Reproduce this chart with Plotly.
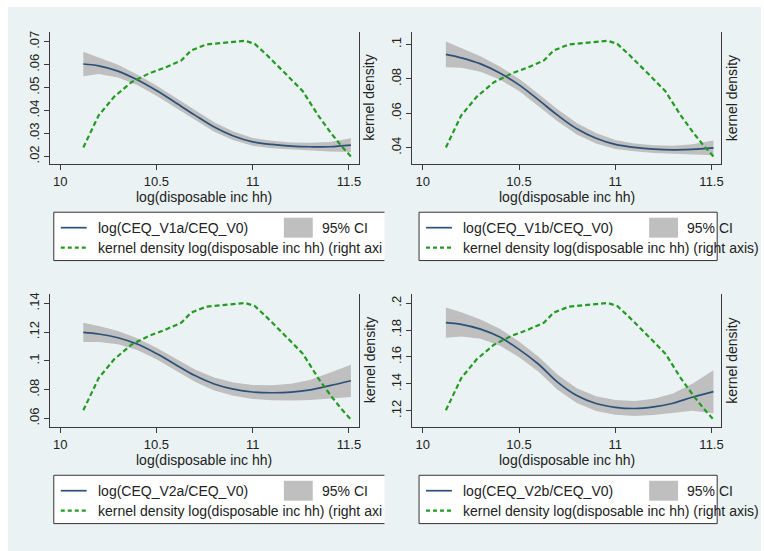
import plotly.graph_objects as go

W, H = 764, 551

# ---------------- data ----------------
x_grid = [10.12, 10.2, 10.3, 10.4, 10.5, 10.6, 10.7, 10.8, 10.9, 11.0, 11.1, 11.2, 11.3, 11.4, 11.51]

p1_fit = [.0603, .0595, .0572, .0534, .0487, .0434, .0380, .0328, .0289, .0263, .0252, .0245, .0242, .0242, .0249]
p1_lo = [.0550, .0559, .0544, .0511, .0465, .0412, .0358, .0307, .0270, .0246, .0236, .0229, .0225, .0221, .0219]
p1_hi = [.0656, .0631, .0600, .0557, .0509, .0456, .0402, .0349, .0308, .0280, .0268, .0261, .0259, .0263, .0279]

p2_fit = [.0942, .0922, .0887, .0834, .0765, .0679, .0589, .0510, .0455, .0419, .0402, .0392, .0388, .0390, .0399]
p2_lo = [.0867, .0864, .0842, .0796, .0729, .0644, .0554, .0477, .0425, .0393, .0379, .0370, .0364, .0360, .0356]
p2_hi = [.1017, .0980, .0932, .0872, .0801, .0714, .0624, .0543, .0485, .0445, .0425, .0414, .0412, .0420, .0442]

p3_fit = [.1198, .1187, .1161, .1117, .1051, .0974, .0898, .0840, .0804, .0784, .0779, .0783, .0799, .0828, .0862]
p3_lo = [.1131, .1132, .1115, .1076, .1011, .0933, .0855, .0795, .0758, .0736, .0727, .0725, .0729, .0738, .0750]
p3_hi = [.1265, .1242, .1207, .1158, .1091, .1015, .0941, .0885, .0850, .0832, .0831, .0841, .0869, .0918, .0974]

p4_fit = [.1856, .1843, .1807, .1748, .1657, .1548, .1413, .1313, .1254, .1226, .1217, .1229, .1256, .1301, .1342]
p4_lo = [.1744, .1753, .1735, .1686, .1599, .1492, .1357, .1258, .1199, .1171, .1161, .1169, .1184, .1201, .1182]
p4_hi = [.1968, .1933, .1879, .1810, .1715, .1604, .1469, .1368, .1309, .1281, .1273, .1289, .1328, .1401, .1502]

dens_x = [10.12, 10.20, 10.28, 10.37, 10.46, 10.54, 10.63, 10.68, 10.76, 10.87, 10.96, 11.01, 11.07, 11.17, 11.26, 11.34, 11.41, 11.46, 11.51]
dens_y = [.141, .407, .561, .682, .754, .801, .864, .946, .996, 1.010, 1.026, 1.001, .913, .754, .608, .407, .253, .154, .066]

x_ticks = [10, 10.5, 11, 11.5]
x_ticktext = ["10", "10.5", "11", "11.5"]

p1_yticks = [.02, .03, .04, .05, .06, .07]
p1_yticktext = [".02", ".03", ".04", ".05", ".06", ".07"]
p2_yticks = [.04, .06, .08, .1]
p2_yticktext = [".04", ".06", ".08", ".1"]
p3_yticks = [.06, .08, .1, .12, .14]
p3_yticktext = [".06", ".08", ".1", ".12", ".14"]
p4_yticks = [.12, .14, .16, .18, .2]
p4_yticktext = [".12", ".14", ".16", ".18", ".2"]

series_names = ["log(CEQ_V1a/CEQ_V0)", "log(CEQ_V1b/CEQ_V0)", "log(CEQ_V2a/CEQ_V0)", "log(CEQ_V2b/CEQ_V0)"]
ci_label = "95% CI"
dens_label_full = "kernel density log(disposable inc hh) (right axis)"
dens_label_cut = "kernel density log(disposable inc hh) (right axi"
x_title = "log(disposable inc hh)"
y2_title = "kernel density"

# ---------------- styling / layout helpers ----------------
BG = "rgb(234,242,243)"
NAVY = "#2b5179"
GREEN = "#239b23"
CIGRAY = "rgb(191,191,191)"
AXC = "#3a3a3a"
FONT = "Arial, Liberation Sans, sans-serif"


def px(x):
    return x / W


def py(y):
    return 1 - y / H


panels = [
    dict(fit=p1_fit, lo=p1_lo, hi=p1_hi, yt=p1_yticks, ytt=p1_yticktext, yr=[0.0165, 0.0743],
         x0=50, x1=360, y0=30, y1=163, name=series_names[0], dens_lab=dens_label_cut, right_open=True),
    dict(fit=p2_fit, lo=p2_lo, hi=p2_hi, yt=p2_yticks, ytt=p2_yticktext, yr=[0.0303, 0.1073],
         x0=414, x1=724, y0=30, y1=163, name=series_names[1], dens_lab=dens_label_full, right_open=False),
    dict(fit=p3_fit, lo=p3_lo, hi=p3_hi, yt=p3_yticks, ytt=p3_yticktext, yr=[0.0538, 0.1465],
         x0=50, x1=360, y0=293, y1=427, name=series_names[2], dens_lab=dens_label_cut, right_open=True),
    dict(fit=p4_fit, lo=p4_lo, hi=p4_hi, yt=p4_yticks, ytt=p4_yticktext, yr=[0.1076, 0.2069],
         x0=414, x1=724, y0=293, y1=427, name=series_names[3], dens_lab=dens_label_full, right_open=False),
]

fig = go.Figure()
layout = dict(
    width=W, height=H, autosize=False,
    margin=dict(l=0, r=0, t=0, b=0),
    paper_bgcolor="white", plot_bgcolor="white",
    showlegend=False,
    font=dict(family=FONT, size=13, color="#222"),
)
shapes = [dict(type="rect", xref="paper", yref="paper", x0=px(8), x1=1.0, y0=0, y1=py(5),
               fillcolor=BG, line=dict(width=0), layer="below")]
annotations = []

for i, p in enumerate(panels, start=1):
    xa = "x" if i == 1 else f"x{i}"
    ya = "y" if i == 1 else f"y{i}"
    ya2 = f"y{i + 4}"
    xkey = "xaxis" if i == 1 else f"xaxis{i}"
    ykey = "yaxis" if i == 1 else f"yaxis{i}"
    y2key = f"yaxis{i + 4}"

    fig.add_trace(go.Scatter(x=x_grid + x_grid[::-1], y=p["hi"] + p["lo"][::-1],
                             fill="toself", fillcolor=CIGRAY, line=dict(width=0),
                             mode="lines", hoverinfo="skip", xaxis=xa, yaxis=ya))
    fig.add_trace(go.Scatter(x=x_grid, y=p["fit"], mode="lines", line=dict(color=NAVY, width=1.7, shape="spline"),
                             xaxis=xa, yaxis=ya))
    fig.add_trace(go.Scatter(x=dens_x, y=dens_y, mode="lines", line=dict(color=GREEN, width=2.2, dash="5px,3px"),
                             xaxis=xa, yaxis=ya2))

    layout[xkey] = dict(domain=[px(p["x0"]), px(p["x1"])], anchor=ya, range=[9.946, 11.55],
                        tickvals=x_ticks, ticktext=x_ticktext, ticks="outside", ticklen=5, tickcolor=AXC,
                        showline=True, linecolor=AXC, linewidth=1, showgrid=False, zeroline=False,
                        tickfont=dict(size=13, color="#222"))
    layout[ykey] = dict(domain=[py(p["y1"]), py(p["y0"])], anchor=xa, range=p["yr"],
                        tickvals=p["yt"], ticktext=p["ytt"], ticks="outside", ticklen=5, tickcolor=AXC,
                        tickangle=-90, showline=True, linecolor=AXC, linewidth=1,
                        showgrid=True, gridcolor=BG, gridwidth=1, zeroline=False,
                        tickfont=dict(size=13, color="#222"))
    layout[y2key] = dict(overlaying=ya, anchor=xa, side="right", range=[0, 1.1],
                         showline=True, linecolor=AXC, linewidth=1, showticklabels=False,
                         ticks="", showgrid=False, zeroline=False)

    # axis titles
    cx = (p["x0"] + p["x1"]) / 2
    annotations.append(dict(text=x_title, x=px(cx), y=py(p["y1"] + 33), xref="paper", yref="paper",
                            showarrow=False, xanchor="center", yanchor="middle",
                            font=dict(size=14, color="#222")))
    annotations.append(dict(text=y2_title, x=px(p["x1"] + 11), y=py((p["y0"] + p["y1"]) / 2),
                            xref="paper", yref="paper", textangle=-90, showarrow=False,
                            xanchor="center", yanchor="middle", font=dict(size=14, color="#222")))

    # legend box
    lx0 = p["x0"] + 4 if i in (1, 3) else 420.7
    lx1 = 386 if p["right_open"] else 720
    ly0 = p["y1"] + 48
    ly1 = ly0 + 48.5
    r1 = ly0 + 15.5
    r2 = ly0 + 35.5
    shapes.append(dict(type="rect", xref="paper", yref="paper", x0=px(lx0), x1=px(lx1), y0=py(ly1), y1=py(ly0),
                       fillcolor="white", line=dict(width=0), layer="below"))
    line_st = dict(color="#333", width=1)
    shapes.append(dict(type="line", xref="paper", yref="paper", x0=px(lx0), x1=px(lx1), y0=py(ly0), y1=py(ly0), line=line_st))
    shapes.append(dict(type="line", xref="paper", yref="paper", x0=px(lx0), x1=px(lx1), y0=py(ly1), y1=py(ly1), line=line_st))
    shapes.append(dict(type="line", xref="paper", yref="paper", x0=px(lx0), x1=px(lx0), y0=py(ly0), y1=py(ly1), line=line_st))
    if not p["right_open"]:
        shapes.append(dict(type="line", xref="paper", yref="paper", x0=px(lx1), x1=px(lx1), y0=py(ly0), y1=py(ly1), line=line_st))
    sx0 = lx0 + 7
    sx1 = sx0 + 26
    tx = sx1 + 9
    shapes.append(dict(type="line", xref="paper", yref="paper", x0=px(sx0), x1=px(sx1), y0=py(r1), y1=py(r1),
                       line=dict(color=NAVY, width=1.7)))
    shapes.append(dict(type="line", xref="paper", yref="paper", x0=px(sx0), x1=px(sx1), y0=py(r2), y1=py(r2),
                       line=dict(color=GREEN, width=2.2, dash="4px,3px")))
    gx0 = lx0 + 231
    shapes.append(dict(type="rect", xref="paper", yref="paper", x0=px(gx0), x1=px(gx0 + 29),
                       y0=py(r1 + 10), y1=py(r1 - 10), fillcolor=CIGRAY, line=dict(width=0)))
    annotations.append(dict(text=p["name"], x=px(tx), y=py(r1), xref="paper", yref="paper", showarrow=False,
                            xanchor="left", yanchor="middle", font=dict(size=14, color="#222")))
    annotations.append(dict(text=ci_label, x=px(gx0 + 36), y=py(r1), xref="paper", yref="paper", showarrow=False,
                            xanchor="left", yanchor="middle", font=dict(size=14, color="#222")))
    annotations.append(dict(text=p["dens_lab"], x=px(tx), y=py(r2), xref="paper", yref="paper", showarrow=False,
                            xanchor="left", yanchor="middle", font=dict(size=14, color="#222")))

layout["shapes"] = shapes
layout["annotations"] = annotations
fig.update_layout(**layout)
fig.write_html("out.html", config={"displayModeBar": False, "staticPlot": True},
               post_script="document.body.style.margin='0px';document.body.style.overflow='hidden';")
